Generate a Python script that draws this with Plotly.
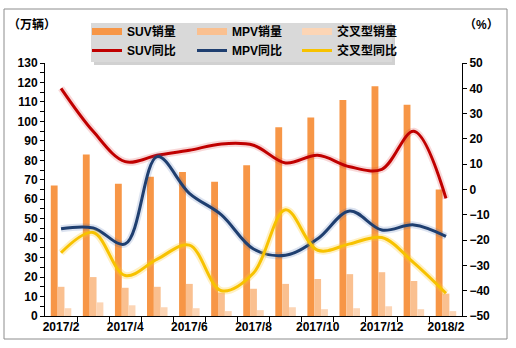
import plotly.graph_objects as go

# ---------------- data ----------------
months = ["2017/2", "2017/3", "2017/4", "2017/5", "2017/6", "2017/7", "2017/8",
          "2017/9", "2017/10", "2017/11", "2017/12", "2018/1", "2018/2"]
suv_sales = [67, 83, 68, 71.5, 74, 69, 77.5, 97, 102, 111, 118, 108.5, 65]
mpv_sales = [15, 20, 14.5, 15, 16.5, 12, 14, 16.5, 19, 21.5, 22.5, 18, 11.5]
cross_sales = [4, 7, 5.5, 4.5, 4, 2.5, 3, 4.5, 3.5, 4, 5, 3.5, 2.5]
suv_yoy = [40, 23, 11, 13.5, 15.5, 18, 17.5, 10.5, 13.5, 9, 8, 23, -3.5]
mpv_yoy = [-15.5, -15.2, -21.5, 13, -1.5, -10, -23.5, -26, -19.5, -8.5, -16, -14, -18.5]
cross_yoy = [-25, -17, -34, -27.5, -22, -40, -33, -8, -24, -21.5, -19, -29, -41]
tick_labels = months[::2]

FONT = "Arial, 'Liberation Sans', 'Noto Sans CJK SC', sans-serif"

# plot area in pixels (for placing decorations)
L, R, T, B = 45, 462, 63, 316
W, H = 516, 348


def px_x(px):
    return (px - L) / (R - L)


def px_y(py):
    return (B - py) / (B - T)


x = list(range(len(months)))
fig = go.Figure()

bars = [("SUV销量", suv_sales, "#F79646"),
        ("MPV销量", mpv_sales, "#FAC090"),
        ("交叉型销量", cross_sales, "#FCD5B5")]
lines = [("SUV同比", suv_yoy, "#C00000", "rgba(220,60,60,0.20)"),
         ("MPV同比", mpv_yoy, "#1F3F70", "rgba(60,100,170,0.18)"),
         ("交叉型同比", cross_yoy, "#F7C200", "rgba(255,200,40,0.28)")]

for name, vals, col in bars:
    fig.add_trace(go.Bar(x=x, y=vals, name=name, yaxis="y", showlegend=False,
                         marker=dict(color=col, line=dict(width=0))))

for name, vals, col, glow in lines:
    fig.add_trace(go.Scatter(x=x, y=vals, mode="lines", yaxis="y2", showlegend=False,
                             hoverinfo="skip",
                             line=dict(color=glow, width=7, shape="spline", smoothing=1)))
    fig.add_trace(go.Scatter(x=x, y=vals, mode="lines", yaxis="y2", name=name,
                             legend="legend2",
                             line=dict(color=col, width=3, shape="spline", smoothing=1)))

# legend swatches for the bar series (wide strips, as in the original)
for name, vals, col in bars:
    fig.add_trace(go.Scatter(x=[None], y=[None], mode="lines", yaxis="y", name=name,
                             legend="legend", line=dict(color=col, width=7)))

legend_common = dict(orientation="h", xanchor="left", yanchor="top",
                     bgcolor="rgba(0,0,0,0)", borderwidth=0, entrywidth=60,
                     itemwidth=30, font=dict(family=FONT, size=12, color="black", weight="bold"))

fig.update_layout(
    width=W, height=H,
    margin=dict(l=L, r=W - R, t=T, b=H - B),
    paper_bgcolor="white", plot_bgcolor="white",
    barmode="group", bargap=0.36, bargroupgap=0,
    font=dict(family=FONT, size=12, color="black", weight="bold"),
    xaxis=dict(range=[-0.5, 12.5], tickvals=x[::2], ticktext=tick_labels,
               showline=True, linecolor="black", linewidth=1, ticks="",
               showgrid=False, zeroline=False,
               minor=dict(tickvals=[i + 0.5 for i in range(12)], ticks="outside",
                          ticklen=5, tickcolor="black", tickwidth=1, showgrid=False)),
    yaxis=dict(range=[0, 130], dtick=10, showline=True, linecolor="black",
               ticks="outside", ticklen=4, tickcolor="black", showgrid=False,
               zeroline=False,
               minor=dict(dtick=5, ticks="outside", ticklen=4, tickcolor="black",
                          showgrid=False)),
    yaxis2=dict(range=[-50, 50], dtick=10, overlaying="y", side="right",
                showline=True, linecolor="black", ticks="outside", ticklen=4,
                tickcolor="black", showgrid=False, zeroline=False),
    legend=dict(x=px_x(87), y=px_y(17), **legend_common),
    legend2=dict(x=px_x(87), y=px_y(36), **legend_common),
    showlegend=True,
)

shapes = [
    # outer chart border
    dict(type="rect", xref="paper", yref="paper",
         x0=px_x(4), x1=px_x(507), y0=px_y(339), y1=px_y(9),
         line=dict(color="#8C8C8C", width=1), fillcolor="rgba(0,0,0,0)", layer="below"),
    # legend shadow
    dict(type="rect", xref="paper", yref="paper",
         x0=px_x(94), x1=px_x(395), y0=px_y(65), y1=px_y(26),
         line=dict(width=0), fillcolor="rgba(0,0,0,0.18)", layer="above"),
    # legend box
    dict(type="rect", xref="paper", yref="paper",
         x0=px_x(91), x1=px_x(392), y0=px_y(62), y1=px_y(23),
         line=dict(width=0), fillcolor="#D9D9D9", layer="above"),
]
fig.update_layout(shapes=shapes)

fig.add_annotation(text="（万辆）", xref="paper", yref="paper", x=px_x(32), y=px_y(25),
                   showarrow=False, xanchor="center", yanchor="middle",
                   font=dict(family=FONT, size=12, color="black", weight="bold"))
fig.add_annotation(text="（%）", xref="paper", yref="paper", x=px_x(482), y=px_y(25),
                   showarrow=False, xanchor="center", yanchor="middle",
                   font=dict(family=FONT, size=12, color="black", weight="bold"))

fig.write_html("out.html")
